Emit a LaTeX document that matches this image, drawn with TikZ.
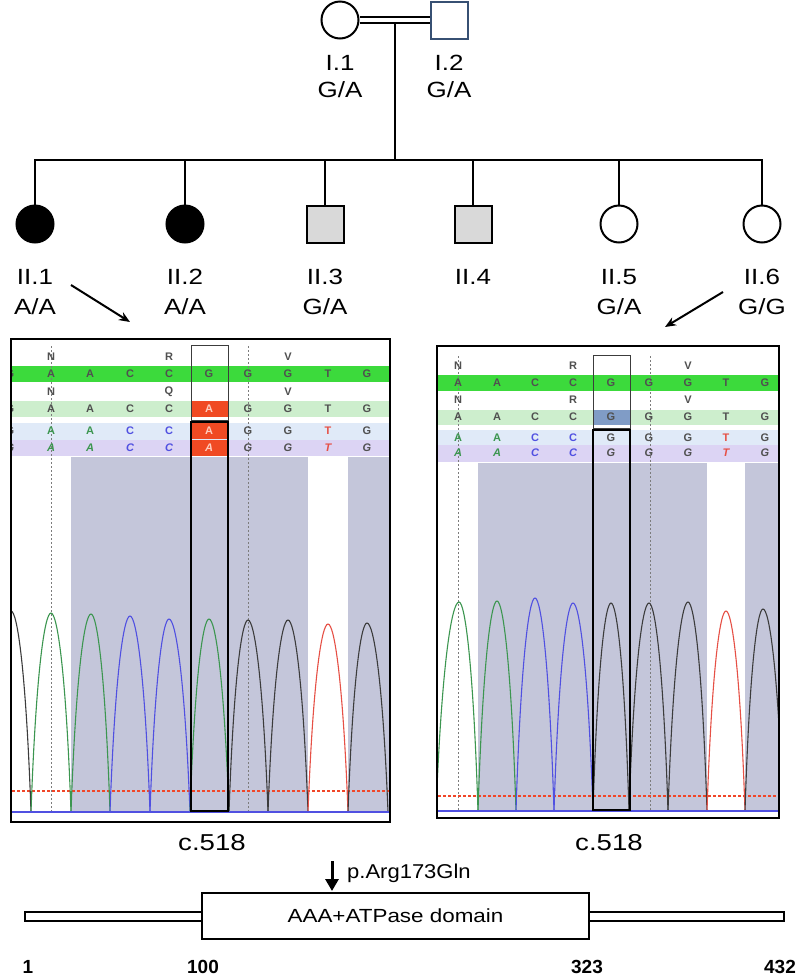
\documentclass[tikz,border=0pt]{standalone}
\usepackage{fontspec}
\setmainfont{Liberation Sans}
\usetikzlibrary{arrows.meta}
\definecolor{gbright}{RGB}{60,218,60}
\definecolor{glight}{RGB}{205,238,205}
\definecolor{blight}{RGB}{224,234,248}
\definecolor{lav}{RGB}{220,212,244}
\definecolor{shadecol}{RGB}{196,198,218}
\definecolor{redcell}{RGB}{240,74,35}
\definecolor{bluecell}{RGB}{128,156,198}
\definecolor{basegreen}{RGB}{60,150,80}
\definecolor{baseblue}{RGB}{80,80,225}
\definecolor{basered}{RGB}{230,80,70}
\definecolor{dashred}{RGB}{240,70,40}
\definecolor{basegrey}{RGB}{60,60,60}
\definecolor{txtgrey}{RGB}{80,80,80}
\definecolor{palecell}{RGB}{255,205,190}
\definecolor{sqblue}{RGB}{55,80,115}
\definecolor{affgrey}{RGB}{217,217,217}
\newcommand{\hx}[1]{\scalebox{1.18}[1]{#1}}
\tikzset{
  ped/.style={line width=2.5pt},
  fem/.style={circle, draw, line width=2pt, minimum size=37pt, inner sep=0pt},
  mal/.style={rectangle, draw, line width=2pt, minimum size=37pt, inner sep=0pt},
  lab/.style={font=\fontsize{22}{22}\selectfont, inner sep=0pt},
  nuc/.style={font=\fontsize{11}{11}\selectfont\bfseries, inner sep=0pt},
  inuc/.style={font=\fontsize{11}{11}\selectfont\bfseries\itshape, inner sep=0pt},
  peak/.style={line width=1.1pt},
  dotl/.style={txtgrey!75, line width=1pt, dash pattern=on 1.5pt off 2.5pt},
  reddash/.style={draw=dashred, line width=1.2pt, dash pattern=on 3pt off 2pt},
  thinbox/.style={draw=basegrey, line width=1pt},
  thickbox/.style={draw=black, line width=2pt},
  panel/.style={draw=black, line width=2.5pt},
  pointer/.style={line width=2pt, -{Stealth[length=11pt,width=9pt]}},
  num/.style={font=\fontsize{19}{19}\selectfont\bfseries, inner sep=0pt},
  bar/.style={draw, fill=white, line width=1.8pt, inner sep=0pt}
}
\begin{document}
\begin{tikzpicture}[x=1pt,y=-1pt]
\useasboundingbox[fill=white] (0,0) rectangle (797,978);

% ---------------- pedigree ----------------
\node[fem] (i1) at (340,20) {};
\node[mal, draw=sqblue] (i2) at (449,20) {};
\draw[double, double distance=4pt, line width=2pt] (i1) -- (i2);
\node[lab] (i1n) at (340,63) {\hx{I.1}};
\node[lab] (i1g) at (340,90) {\hx{G/A}};
\node[lab] (i2n) at (449,63) {\hx{I.2}};
\node[lab] (i2g) at (449,90) {\hx{G/A}};
\coordinate (mate) at (395,23);
\coordinate (sib) at (395,160);
\draw[ped] (mate) -- (sib);

\node[fem, fill=black] (ii1) at (35,224) {};
\node[fem, fill=black] (ii2) at (185,224) {};
\node[mal, fill=affgrey] (ii3) at (325,224) {};
\node[mal, fill=affgrey] (ii4) at (473,224) {};
\node[fem] (ii5) at (619,224) {};
\node[fem] (ii6) at (762,224) {};
\draw[ped] (ii1.north) |- (ii6.north |- sib) -- (ii6.north);
\foreach \n in {ii2,ii3,ii4,ii5} \draw[ped] (\n.north) -- (\n.north |- sib);

\node[lab] (ii1n) at (35,277) {\hx{II.1}};
\node[lab] (ii1g) at (35,307) {\hx{A/A}};
\node[lab] (ii2n) at (185,277) {\hx{II.2}};
\node[lab] (ii2g) at (185,307) {\hx{A/A}};
\node[lab] (ii3n) at (325,277) {\hx{II.3}};
\node[lab] (ii3g) at (325,307) {\hx{G/A}};
\node[lab] (ii4n) at (473,277) {\hx{II.4}};
\node[lab] (ii5n) at (619,277) {\hx{II.5}};
\node[lab] (ii5g) at (619,307) {\hx{G/A}};
\node[lab] (ii6n) at (762,277) {\hx{II.6}};
\node[lab] (ii6g) at (762,307) {\hx{G/G}};

\coordinate (aL1) at (71,285);
\coordinate (aL2) at (130,322);
\draw[pointer] (aL1) -- (aL2);
\coordinate (aR1) at (723,292);
\coordinate (aR2) at (665,327);
\draw[pointer] (aR1) -- (aR2);

% ---------------- left chromatogram ----------------
\begin{scope}
\clip (12,340) rectangle (389,821);
\fill[white] (12,340) rectangle (389,821);
\fill[gbright] (12,366) rectangle (389,382);
\fill[glight] (12,401) rectangle (389,417);
\fill[blight] (12,423) rectangle (389,440);
\fill[lav] (12,440) rectangle (389,456);
\fill[shadecol] (71,457) rectangle (308,812);
\fill[shadecol] (348,457) rectangle (389,812);
\fill[redcell] (191,401) rectangle (228,417);
\fill[redcell] (191,423) rectangle (228,439);
\fill[redcell] (191,440) rectangle (228,456);
\draw[dotl] (51,346) -- (51,812);
\draw[dotl] (248,346) -- (248,812);
\node[nuc, text=txtgrey] (lt1) at (51,357) {N};
\node[nuc, text=txtgrey] (lt2) at (169,357) {R};
\node[nuc, text=txtgrey] (lt3) at (288,357) {V};
\node[nuc, text=txtgrey] (lt4) at (51,392) {N};
\node[nuc, text=txtgrey] (lt5) at (169,392) {Q};
\node[nuc, text=txtgrey] (lt6) at (288,392) {V};
\foreach \x/\b [count=\i] in {10/G,51/A,90/A,130/C,169/C,209/G,248/G,288/G,328/T,367/G}
  \node[nuc, text=txtgrey] (la\i) at (\x,374) {\b};
\foreach \x/\b/\cl [count=\i] in {10/G/txtgrey,51/A/txtgrey,90/A/txtgrey,130/C/txtgrey,169/C/txtgrey,209/A/palecell,248/G/txtgrey,288/G/txtgrey,328/T/txtgrey,367/G/txtgrey}
  \node[nuc, text=\cl] (lb\i) at (\x,409) {\b};
\foreach \x/\b/\cl [count=\i] in {10/G/txtgrey,51/A/basegreen,90/A/basegreen,130/C/baseblue,169/C/baseblue,209/A/palecell,248/G/txtgrey,288/G/txtgrey,328/T/basered,367/G/txtgrey}
  \node[nuc, text=\cl] (lc\i) at (\x,431) {\b};
\foreach \x/\b/\cl [count=\i] in {10/G/txtgrey,51/A/basegreen,90/A/basegreen,130/C/baseblue,169/C/baseblue,209/A/palecell,248/G/txtgrey,288/G/txtgrey,328/T/basered,367/G/txtgrey}
  \node[inuc, text=\cl] (ld\i) at (\x,448) {\b};
\draw[reddash] (12,791) -- (389,791);
\foreach \pa/\pb/\pc/\pt/\col in {-9/11/31/611/basegrey,31/51/71/613/basegreen,71/91/110/614/basegreen,110/130/150/616/baseblue,150/169/190/619/baseblue,190/209/229/619/basegreen,229/248/268/620/basegrey,268/288/308/620/basegrey,308/328/348/624/basered,348/367/388/623/basegrey}
  \draw[peak, draw=\col] (\pa,812) .. controls ({\pa+0.25*(\pb-\pa)},{812-0.7*(812-\pt)}) and ({\pb-0.32*(\pb-\pa)},\pt) .. (\pb,\pt)
     .. controls ({\pb+0.32*(\pc-\pb)},\pt) and ({\pc-0.25*(\pc-\pb)},{812-0.7*(812-\pt)}) .. (\pc,812);
\draw[baseblue, line width=1.5pt] (12,812) -- (389,812);
\end{scope}
\draw[thinbox] (191,345) rectangle (228,420);
\draw[thickbox] (191,422) rectangle (228,811);
\draw[panel] (11,339) rectangle (390,822);
\node[font=\fontsize{23}{23}\selectfont, inner sep=0pt] (cL) at (212,843) {\scalebox{1.2}[1]{c.518}};

% ---------------- right chromatogram ----------------
\begin{scope}
\clip (438,347) rectangle (778,817);
\fill[white] (438,347) rectangle (778,817);
\fill[gbright] (438,375) rectangle (778,391);
\fill[glight] (438,410) rectangle (778,425);
\fill[blight] (438,430) rectangle (778,445);
\fill[lav] (438,445) rectangle (778,462);
\fill[shadecol] (478,463) rectangle (707,811);
\fill[shadecol] (745,463) rectangle (778,811);
\fill[bluecell] (593,410) rectangle (630,425);
\draw[dotl] (458,356) -- (458,811);
\draw[dotl] (650,356) -- (650,811);
\node[nuc, text=txtgrey] (rt1) at (458,366) {N};
\node[nuc, text=txtgrey] (rt2) at (573,366) {R};
\node[nuc, text=txtgrey] (rt3) at (688,366) {V};
\node[nuc, text=txtgrey] (rt4) at (458,400) {N};
\node[nuc, text=txtgrey] (rt5) at (573,400) {R};
\node[nuc, text=txtgrey] (rt6) at (688,400) {V};
\foreach \x/\b [count=\i] in {458/A,497/A,535/C,573/C,611/G,649/G,688/G,726/T,765/G}
  \node[nuc, text=txtgrey] (ra\i) at (\x,383) {\b};
\foreach \x/\b [count=\i] in {458/A,497/A,535/C,573/C,611/G,649/G,688/G,726/T,765/G}
  \node[nuc, text=txtgrey] (rb\i) at (\x,417) {\b};
\foreach \x/\b/\cl [count=\i] in {458/A/basegreen,497/A/basegreen,535/C/baseblue,573/C/baseblue,611/G/txtgrey,649/G/txtgrey,688/G/txtgrey,726/T/basered,765/G/txtgrey}
  \node[nuc, text=\cl] (rc\i) at (\x,438) {\b};
\foreach \x/\b/\cl [count=\i] in {458/A/basegreen,497/A/basegreen,535/C/baseblue,573/C/baseblue,611/G/txtgrey,649/G/txtgrey,688/G/txtgrey,726/T/basered,765/G/txtgrey}
  \node[inuc, text=\cl] (rd\i) at (\x,453) {\b};
\draw[reddash] (438,796) -- (778,796);
\foreach \pa/\pb/\pc/\pt/\col in {436/459/478/602/basegreen,478/497/516/601/basegreen,516/535/554/598/baseblue,554/573/593/603/baseblue,593/611/629/603/basegrey,629/649/668/603/basegrey,668/688/707/602/basegrey,707/726/745/611/basered,745/763/783/609/basegrey}
  \draw[peak, draw=\col] (\pa,811) .. controls ({\pa+0.25*(\pb-\pa)},{811-0.7*(811-\pt)}) and ({\pb-0.32*(\pb-\pa)},\pt) .. (\pb,\pt)
     .. controls ({\pb+0.32*(\pc-\pb)},\pt) and ({\pc-0.25*(\pc-\pb)},{811-0.7*(811-\pt)}) .. (\pc,811);
\draw[baseblue, line width=1.5pt] (438,811) -- (778,811);
\end{scope}
\draw[thinbox] (593,355) rectangle (630,428);
\draw[thickbox] (593,430) rectangle (630,810);
\draw[panel] (437,346) rectangle (779,818);
\node[font=\fontsize{23}{23}\selectfont, inner sep=0pt] (cR) at (609,843) {\scalebox{1.2}[1]{c.518}};

% ---------------- protein domain ----------------
\node[bar, minimum width=177pt, minimum height=9pt] (barL) at (113.5,916.5) {};
\node[bar, minimum width=195pt, minimum height=9pt] (barR) at (686.5,916.5) {};
\node[bar, minimum width=387pt, minimum height=46pt, font=\fontsize{19}{19}\selectfont] (dom) at (395.5,916) {\hx{AAA+ATPase domain}};
\coordinate (mutTop) at (332,861);
\coordinate (mutTip) at (332,891);
\draw[line width=3pt, -{Triangle[length=12pt,width=13pt]}] (mutTop) -- (mutTip);
\node[anchor=west, font=\fontsize{20}{20}\selectfont, inner sep=0pt] (mut) at (347,873) {\scalebox{1.1}[1]{p.Arg173Gln}};
\node[num] (n1) at (28,967) {1};
\node[num] (n100) at (203,967) {100};
\node[num] (n323) at (587,967) {323};
\node[num] (n432) at (780,967) {432};
\end{tikzpicture}
\end{document}
